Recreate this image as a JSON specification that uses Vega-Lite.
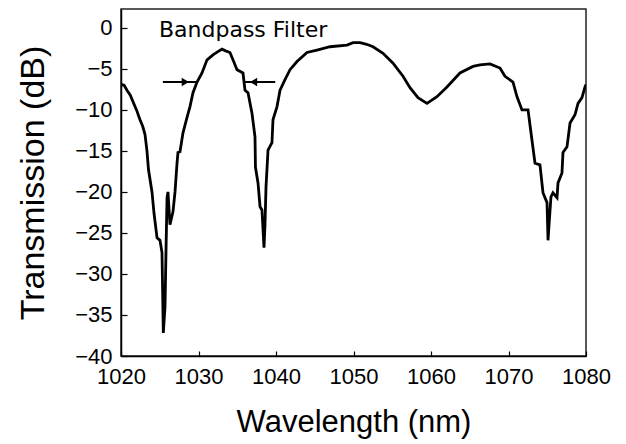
{
  "$schema": "https://vega.github.io/schema/vega-lite/v6.json",
  "width": 465,
  "height": 347,
  "autosize": "none",
  "padding": {"left": 121, "top": 9, "right": 40, "bottom": 88},
  "background": "white",
  "config": {
    "view": {"stroke": "#222", "strokeWidth": 1.5},
    "font": "Liberation Sans"
  },
  "datasets": {
    "curve": [
      {"wl": 1020.0, "db": -6.9}, {"wl": 1020.4, "db": -7.0}, {"wl": 1020.77, "db": -7.6}, {"wl": 1021.2, "db": -8.2},
      {"wl": 1021.55, "db": -9.0}, {"wl": 1022.0, "db": -10.0}, {"wl": 1022.45, "db": -11.2}, {"wl": 1022.8, "db": -12.0},
      {"wl": 1023.1, "db": -13.0}, {"wl": 1023.35, "db": -15.0}, {"wl": 1023.55, "db": -17.3}, {"wl": 1024.0, "db": -20.0},
      {"wl": 1024.26, "db": -22.6}, {"wl": 1024.65, "db": -25.6}, {"wl": 1025.03, "db": -25.9}, {"wl": 1025.29, "db": -27.4},
      {"wl": 1025.46, "db": -37.2}, {"wl": 1025.68, "db": -34.0}, {"wl": 1025.81, "db": -27.0}, {"wl": 1025.94, "db": -20.7},
      {"wl": 1026.06, "db": -20.0}, {"wl": 1026.32, "db": -24.0}, {"wl": 1026.71, "db": -22.4}, {"wl": 1026.97, "db": -20.0},
      {"wl": 1027.23, "db": -16.5}, {"wl": 1027.35, "db": -15.2}, {"wl": 1027.61, "db": -15.1}, {"wl": 1028.0, "db": -12.8},
      {"wl": 1028.52, "db": -10.9}, {"wl": 1028.9, "db": -9.6}, {"wl": 1029.29, "db": -7.9}, {"wl": 1029.81, "db": -6.6},
      {"wl": 1030.45, "db": -5.5}, {"wl": 1031.1, "db": -3.9}, {"wl": 1031.87, "db": -3.3}, {"wl": 1032.5, "db": -2.9},
      {"wl": 1033.03, "db": -2.6}, {"wl": 1033.5, "db": -2.8}, {"wl": 1034.06, "db": -3.0}, {"wl": 1034.5, "db": -4.0},
      {"wl": 1034.97, "db": -5.1}, {"wl": 1035.74, "db": -5.5}, {"wl": 1036.0, "db": -7.6}, {"wl": 1036.39, "db": -7.9},
      {"wl": 1036.9, "db": -10.4}, {"wl": 1037.29, "db": -13.3}, {"wl": 1037.35, "db": -17.0}, {"wl": 1037.68, "db": -18.9},
      {"wl": 1037.94, "db": -21.8}, {"wl": 1038.19, "db": -22.2}, {"wl": 1038.45, "db": -26.8}, {"wl": 1038.58, "db": -24.0},
      {"wl": 1038.71, "db": -19.4}, {"wl": 1038.97, "db": -14.9}, {"wl": 1039.48, "db": -14.0}, {"wl": 1039.61, "db": -11.2},
      {"wl": 1040.13, "db": -9.6}, {"wl": 1040.52, "db": -7.6}, {"wl": 1041.16, "db": -6.3}, {"wl": 1041.81, "db": -5.1},
      {"wl": 1042.71, "db": -4.1}, {"wl": 1044.0, "db": -3.0}, {"wl": 1045.29, "db": -2.7}, {"wl": 1046.97, "db": -2.3},
      {"wl": 1049.16, "db": -2.1}, {"wl": 1049.94, "db": -1.8}, {"wl": 1050.84, "db": -1.8}, {"wl": 1051.7, "db": -2.0},
      {"wl": 1052.52, "db": -2.3}, {"wl": 1053.81, "db": -3.1}, {"wl": 1055.1, "db": -4.3}, {"wl": 1056.39, "db": -5.9},
      {"wl": 1057.29, "db": -7.3}, {"wl": 1058.32, "db": -8.5}, {"wl": 1059.48, "db": -9.2}, {"wl": 1060.77, "db": -8.4},
      {"wl": 1062.06, "db": -7.2}, {"wl": 1063.74, "db": -5.5}, {"wl": 1065.42, "db": -4.7}, {"wl": 1066.32, "db": -4.5},
      {"wl": 1067.61, "db": -4.4}, {"wl": 1068.9, "db": -4.9}, {"wl": 1069.55, "db": -5.9}, {"wl": 1070.58, "db": -6.6},
      {"wl": 1071.1, "db": -8.4}, {"wl": 1071.74, "db": -10.0}, {"wl": 1072.52, "db": -10.0}, {"wl": 1073.03, "db": -13.7},
      {"wl": 1073.42, "db": -16.5}, {"wl": 1074.06, "db": -16.7}, {"wl": 1074.45, "db": -20.1}, {"wl": 1074.97, "db": -21.3},
      {"wl": 1075.1, "db": -25.9}, {"wl": 1075.23, "db": -24.0}, {"wl": 1075.48, "db": -20.6}, {"wl": 1075.74, "db": -20.1},
      {"wl": 1076.26, "db": -20.7}, {"wl": 1076.39, "db": -18.9}, {"wl": 1076.9, "db": -17.7}, {"wl": 1077.03, "db": -15.2},
      {"wl": 1077.55, "db": -14.5}, {"wl": 1077.94, "db": -11.6}, {"wl": 1078.58, "db": -10.6}, {"wl": 1078.97, "db": -9.2},
      {"wl": 1079.48, "db": -8.5}, {"wl": 1079.87, "db": -7.2}, {"wl": 1080.0, "db": -6.9}
    ],
    "arrows": [
      {"x1": 1025.4, "x2": 1029.8, "y": -6.6},
      {"x1": 1036.0, "x2": 1039.9, "y": -6.6}
    ],
    "heads": [
      {"x": 1028.3, "y": -6.6, "dir": "right"},
      {"x": 1037.1, "y": -6.6, "dir": "left"}
    ],
    "label": [
      {"x": 1024.9, "y": -1.1, "text": "Bandpass Filter"}
    ]
  },
  "layer": [
    {
      "data": {"name": "curve"},
      "mark": {"type": "line", "color": "black", "strokeWidth": 2.8, "interpolate": "linear", "clip": true},
      "encoding": {
        "x": {
          "field": "wl", "type": "quantitative",
          "scale": {"domain": [1020, 1080], "nice": false, "zero": false},
          "axis": {
            "title": "Wavelength (nm)",
            "values": [1020, 1025, 1030, 1035, 1040, 1045, 1050, 1055, 1060, 1065, 1070, 1075, 1080],
            "labelExpr": "datum.value % 10 === 0 ? datum.label : ''",
            "format": "d",
            "grid": false,
            "domainColor": "black",
            "domainWidth": 1.5,
            "tickColor": "black",
            "tickWidth": 1.2,
            "tickSize": {"condition": {"test": "datum.value % 10 === 0", "value": -5}, "value": -3},
            "labelFont": "Liberation Sans",
            "labelFontSize": 22,
            "labelColor": "black",
            "labelPadding": 15,
            "labelFlush": false,
            "labelOverlap": false,
            "titleFont": "Liberation Sans",
            "titleFontSize": 31,
            "titleFontWeight": "normal",
            "titleColor": "black",
            "titlePadding": 20
          }
        },
        "y": {
          "field": "db", "type": "quantitative",
          "scale": {"domain": [-40, 2.3], "nice": false, "zero": false},
          "axis": {
            "title": "Transmission (dB)",
            "values": [-40, -37.5, -35, -32.5, -30, -27.5, -25, -22.5, -20, -17.5, -15, -12.5, -10, -7.5, -5, -2.5, 0],
            "labelExpr": "datum.value % 5 === 0 ? datum.label : ''",
            "format": "d",
            "grid": false,
            "domainColor": "black",
            "domainWidth": 1.5,
            "tickColor": "black",
            "tickWidth": 1.2,
            "tickSize": {"condition": {"test": "datum.value % 5 === 0", "value": -6}, "value": -3},
            "labelFont": "Liberation Sans",
            "labelFontSize": 22,
            "labelColor": "black",
            "labelPadding": 15,
            "labelFlush": false,
            "labelOverlap": false,
            "titleFont": "Liberation Sans",
            "titleFontSize": 34,
            "titleFontWeight": "normal",
            "titleColor": "black",
            "titlePadding": 24
          }
        }
      }
    },
    {
      "data": {"name": "arrows"},
      "mark": {"type": "rule", "color": "black", "strokeWidth": 2},
      "encoding": {
        "x": {"field": "x1", "type": "quantitative"},
        "x2": {"field": "x2"},
        "y": {"field": "y", "type": "quantitative"}
      }
    },
    {
      "data": {"name": "heads"},
      "mark": {"type": "point", "filled": true, "color": "black", "size": 70, "opacity": 1},
      "encoding": {
        "x": {"field": "x", "type": "quantitative"},
        "y": {"field": "y", "type": "quantitative"},
        "shape": {"field": "dir", "type": "nominal", "scale": {"domain": ["right", "left"], "range": ["triangle-right", "triangle-left"]}, "legend": null}
      }
    },
    {
      "data": {"name": "label"},
      "mark": {"type": "text", "align": "left", "baseline": "alphabetic", "font": "DejaVu Sans", "fontSize": 22, "color": "black"},
      "encoding": {
        "x": {"field": "x", "type": "quantitative"},
        "y": {"field": "y", "type": "quantitative"},
        "text": {"field": "text"}
      }
    }
  ]
}
